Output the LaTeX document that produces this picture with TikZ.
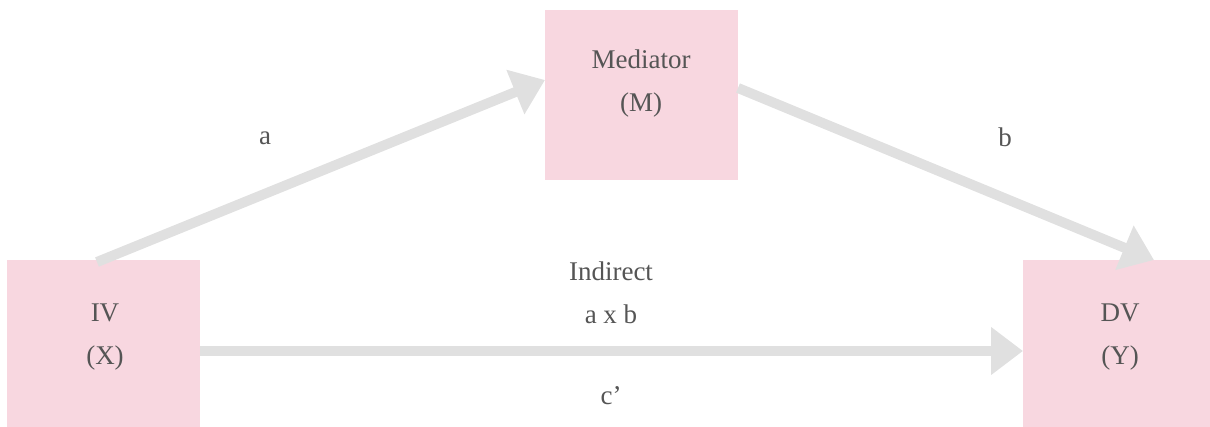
\documentclass[tikz,border=0pt]{standalone}
\usepackage{fontspec}
\setmainfont{Liberation Serif}
\usetikzlibrary{arrows.meta}
\definecolor{boxpink}{HTML}{F8D7E0}
\definecolor{arrowgray}{HTML}{E0E0E0}
\definecolor{txtgray}{HTML}{555555}
\begin{document}
\begin{tikzpicture}[x=1pt,y=-1pt,
  boxnode/.style={fill=boxpink,draw=none,minimum width=193pt,inner sep=0pt,outer sep=0pt},
  txt/.style={text=txtgray,font=\fontsize{27}{43}\selectfont,align=center,inner sep=0pt},
  conn/.style={draw=arrowgray,line width=10pt,-{Triangle[length=32pt,width=46pt]}}]
\useasboundingbox (0,0) rectangle (1210,427);
% boxes
\node[boxnode,minimum height=170pt] (med) at (641.5,95) {};
\node[boxnode,minimum height=170pt] (iv) at (103.5,345) {};
\node[boxnode,minimum height=170pt] (dv) at (1119.5,345) {};
% connector end points
\coordinate (aS) at (97,262);
\coordinate (aE) at (545,80);
\coordinate (bS) at (738,88);
\coordinate (bE) at (1154,260);
\coordinate (cS) at (200,351);
\coordinate (cE) at (1023,351);
\draw[conn] (aS) -- (aE);
\draw[conn] (bS) -- (bE);
\draw[conn] (cS) -- (cE);
% texts
\node[txt] (medt) at (641,84) {Mediator\\(M)};
\node[txt] (ivt) at (105,337) {IV\\(X)};
\node[txt] (dvt) at (1120,337) {DV\\(Y)};
\node[txt] (la) at (265,138) {a};
\node[txt] (lb) at (1005,137) {b};
\node[txt] (lind) at (611,293) {Indirect\\a x b};
\node[txt] (lc) at (611,396) {c’};
\end{tikzpicture}
\end{document}
